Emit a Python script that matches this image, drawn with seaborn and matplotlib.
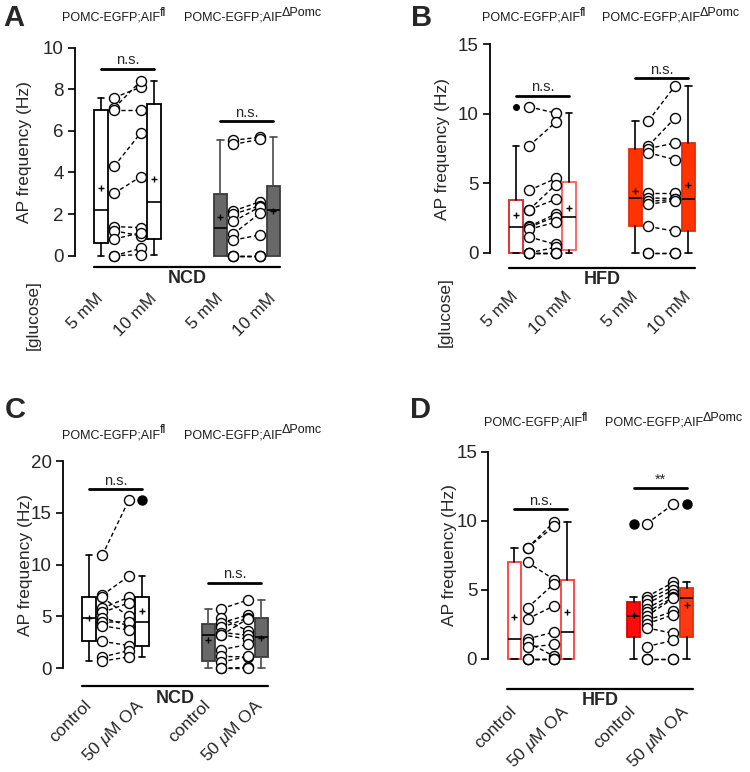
import numpy as np
import pandas as pd
import matplotlib
matplotlib.use("Agg")
import matplotlib.pyplot as plt
import seaborn as sns

# AP frequency (Hz) per cell.
# Index i in the first list of a pair is the same cell as index i in the second.
a_fl_5mM = [7.6, 7.1, 7.0, 4.3, 3.0, 1.4, 1.2, 0.8, 0.0, 0.0]
a_fl_10mM = [8.1, 8.4, 7.0, 5.9, 3.8, 1.35, 0.95, 1.1, 0.35, 0.05]
a_ko_5mM = [5.55, 5.35, 2.15, 2.0, 1.65, 1.05, 0.75, 0.0, 0.0, 0.0]
a_ko_10mM = [5.7, 5.6, 2.6, 2.4, 2.35, 2.05, 1.0, 0.0, 0.0, 0.0]

b_fl_5mM = [10.5, 7.7, 4.5, 3.1, 3.1, 1.9, 1.85, 1.7, 1.15, 0.0, 0.0, 0.0, 0.0]
b_fl_10mM = [10.05, 9.4, 5.35, 4.9, 3.85, 2.8, 2.6, 2.2, 0.6, 0.4, 0.0, 0.0, 0.0]
b_ko_5mM = [9.5, 7.7, 7.5, 7.2, 4.3, 3.95, 3.7, 3.5, 1.9, 0.0, 0.0]
b_ko_10mM = [12.0, 9.7, 7.9, 6.7, 4.3, 3.9, 3.85, 3.75, 1.55, 0.0, 0.0]

c_fl_ctrl = [10.9, 7.05, 6.85, 5.8, 5.4, 4.9, 4.45, 4.1, 2.6, 1.1, 0.7]
c_fl_oa = [16.2, 8.9, 5.0, 6.85, 6.3, 4.1, 4.5, 3.7, 2.2, 1.7, 1.1]
c_ko_ctrl = [5.75, 4.85, 4.4, 3.95, 3.45, 3.25, 3.2, 1.8, 1.15, 0.6, 0.0, 0.0]
c_ko_oa = [6.6, 3.6, 5.15, 4.85, 3.2, 2.8, 4.8, 2.3, 1.1, 1.15, 0.1, 0.0]

d_fl_ctrl = [8.05, 8.05, 7.0, 3.7, 2.9, 1.45, 1.2, 0.85, 0.0, 0.0, 0.0]
d_fl_oa = [9.9, 9.6, 5.75, 5.45, 3.85, 1.95, 0.2, 1.05, 0.0, 0.0, 0.0]
d_ko_ctrl = [9.8, 4.5, 4.25, 4.0, 3.65, 3.4, 3.1, 2.8, 2.55, 2.25, 0.9, 0.0, 0.0]
d_ko_oa = [11.2, 5.55, 5.25, 5.0, 4.7, 4.45, 4.4, 3.45, 3.2, 1.85, 1.35, 0.0, 0.0]

glucose_labels = ["5 mM", "10 mM", "5 mM", "10 mM"]
oa_labels = ["control", r"50 $\mu$M OA", "control", r"50 $\mu$M OA"]
genotype = "POMC-EGFP;AIF"
sup_fl = "fl"
sup_ko = "\u0394Pomc"

sns.set_style("ticks")
plt.rcParams["font.family"] = ["Liberation Sans", "DejaVu Sans"]
plt.rcParams["mathtext.fontset"] = "custom"
plt.rcParams["mathtext.rm"] = "Liberation Sans"
plt.rcParams["mathtext.it"] = "Liberation Sans:italic"
plt.rcParams["mathtext.bf"] = "Liberation Sans:bold"

positions = [0, 1, 2.25, 3.25]


def box_stats(vals):
    # GraphPad-style quartiles, Tukey whiskers
    v = np.sort(np.asarray(vals, dtype=float))
    q1, med, q3 = np.percentile(v, [25, 50, 75], method="weibull")
    iqr = q3 - q1
    inside = v[(v >= q1 - 1.5 * iqr) & (v <= q3 + 1.5 * iqr)]
    lo, hi = inside.min(), inside.max()
    return dict(med=med, q1=q1, q3=q3, whislo=lo, whishi=hi,
                fliers=v[(v < lo) | (v > hi)], mean=v.mean())


def draw_panel(ax, groups, styles, ymax, ystep, xlabels, diet, sigs,
               line_y, diet_y, xpad, ylab_x, fsize=6.5):
    for pos, vals, (fill, edge, wcol) in zip(positions, groups, styles):
        ax.bxp([box_stats(vals)], positions=[pos], widths=0.25, capwidths=0.13,
               showmeans=True, patch_artist=True, manage_ticks=False,
               boxprops=dict(facecolor=fill, edgecolor=edge, linewidth=1.3),
               medianprops=dict(color="black", linewidth=1.2),
               whiskerprops=dict(color=wcol, linewidth=1.2),
               capprops=dict(color=wcol, linewidth=1.2),
               meanprops=dict(marker="+", markersize=5, markeredgecolor="black",
                              markeredgewidth=1),
               flierprops=dict(marker="o", markersize=fsize, markerfacecolor="black",
                               markeredgecolor="black"))

    # paired recordings, dashed line per cell
    rows = []
    for k, (i, j) in enumerate([(0, 1), (2, 3)]):
        for c, (v1, v2) in enumerate(zip(groups[i], groups[j])):
            rows.append((positions[i] + 0.25, v1, f"{k}-{c}"))
            rows.append((positions[j] - 0.25, v2, f"{k}-{c}"))
    df = pd.DataFrame(rows, columns=["x", "freq", "cell"])
    sns.lineplot(data=df, x="x", y="freq", units="cell", estimator=None,
                 color="black", linewidth=1, linestyle=(0, (3, 2)),
                 legend=False, ax=ax)
    sns.scatterplot(data=df, x="x", y="freq", marker="o", s=52, color="white",
                    edgecolor="black", linewidth=1, zorder=5, legend=False, ax=ax)

    for (i, j), y, txt in sigs:
        ax.plot([positions[i], positions[j]], [y, y], color="black", lw=2)
        ax.annotate(txt, ((positions[i] + positions[j]) / 2, y), xytext=(0, 1),
                    textcoords="offset points", ha="center", va="bottom",
                    fontsize=10.5)

    tr = ax.get_xaxis_transform()
    ax.plot([-0.13, 3.38], [line_y, line_y], transform=tr, color="black",
            lw=1.6, clip_on=False)
    ax.text(1.625, diet_y, diet, transform=tr, ha="center", va="center",
            fontsize=13, fontweight="bold")

    ax.set_xlim(-0.49, 3.5)
    ax.set_ylim(0, ymax)
    ax.set_yticks(np.arange(0, ymax + 0.1, ystep))
    ax.set_xticks(positions)
    ax.set_xticklabels(xlabels, rotation=45, ha="right", va="center",
                       rotation_mode="anchor", fontsize=12.5)
    ax.tick_params(axis="x", length=0, pad=xpad)
    ax.tick_params(axis="y", labelsize=13.5, length=5, width=1.2, pad=3,
                   color="black")
    ax.set_xlabel("")
    ax.set_ylabel("AP frequency (Hz)", fontsize=12.5)
    ax.yaxis.set_label_coords(ylab_x, 0.5)
    sns.despine(ax=ax, bottom=True)
    ax.spines["left"].set_linewidth(1.3)
    ax.spines["left"].set_color("black")
    for art in ax.lines + ax.collections + ax.patches:
        art.set_clip_on(False)


fig = plt.figure(figsize=(7.5, 7.72), dpi=100)
ax_a = fig.add_axes([0.1, 0.6688, 0.282, 0.2694])
ax_b = fig.add_axes([0.6533, 0.6725, 0.282, 0.2701])
ax_c = fig.add_axes([0.084, 0.1343, 0.282, 0.2685])
ax_d = fig.add_axes([0.6511, 0.1464, 0.282, 0.2685])

white_k = ("white", "black", "black")
gray = ("#686868", "#3a3a3a", "#4a4a4a")

draw_panel(ax_a, [a_fl_5mM, a_fl_10mM, a_ko_5mM, a_ko_10mM],
           [white_k, white_k, gray, gray], 10, 2, glucose_labels, "NCD",
           [((0, 1), 9.0, "n.s."), ((2, 3), 6.47, "n.s.")],
           -0.053, -0.112, 29, -0.203)
draw_panel(ax_b, [b_fl_5mM, b_fl_10mM, b_ko_5mM, b_ko_10mM],
           [("white", "#d8232a", "black"), ("white", "#ff5a5a", "black"),
            ("#ff3300", "#e52b0b", "black"), ("#ff3300", "#e52b0b", "black")],
           15, 5, glucose_labels, "HFD",
           [((0, 1), 11.3, "n.s."), ((2, 3), 12.56, "n.s.")],
           -0.072, -0.13, 29.5, -0.189, fsize=4)
draw_panel(ax_c, [c_fl_ctrl, c_fl_oa, c_ko_ctrl, c_ko_oa],
           [white_k, white_k, gray, gray], 20, 5, oa_labels, "NCD",
           [((0, 1), 17.3, "n.s."), ((2, 3), 8.26, "n.s.")],
           -0.084, -0.145, 25, -0.142)
draw_panel(ax_d, [d_fl_ctrl, d_fl_oa, d_ko_ctrl, d_ko_oa],
           [("white", "#ff3c3c", "black"), ("white", "#ff3c3c", "black"),
            ("#ff0a0a", "#dd0000", "black"), ("#ff3a12", "#e52b0b", "black")],
           15, 5, oa_labels, "HFD",
           [((0, 1), 10.83, "n.s."), ((2, 3), 12.35, "**")],
           -0.145, -0.198, 36, -0.148)

for ax, x, y in [(ax_a, -0.199, -0.285), (ax_b, -0.213, -0.282)]:
    ax.text(x, y, "[glucose]", transform=ax.transAxes, rotation=90,
            ha="center", va="center", fontsize=12.5)

# panel letters
for letter, x, y in [("A", 0.005, 0.966), ("B", 0.548, 0.966),
                     ("C", 0.007, 0.4585), ("D", 0.547, 0.4585)]:
    fig.text(x, y, letter, fontsize=21, fontweight="bold", va="baseline")

# genotype headers: base text ends where the raised superscript starts
for j1, j2, y in [(160, 282, 20.7), (580, 700, 20.7),
                  (160, 282, 438.3), (582, 703, 425.7)]:
    for jx, sup in [(j1, sup_fl), (j2, sup_ko)]:
        fig.text(jx / 750, 1 - y / 772, genotype, ha="right", va="baseline",
                 fontsize=9, color="#1a1a1a")
        fig.text(jx / 750, 1 - (y - 5) / 772, sup, ha="left", va="baseline",
                 fontsize=9, color="#1a1a1a")

fig.savefig("out.png", dpi=100, facecolor="white")
